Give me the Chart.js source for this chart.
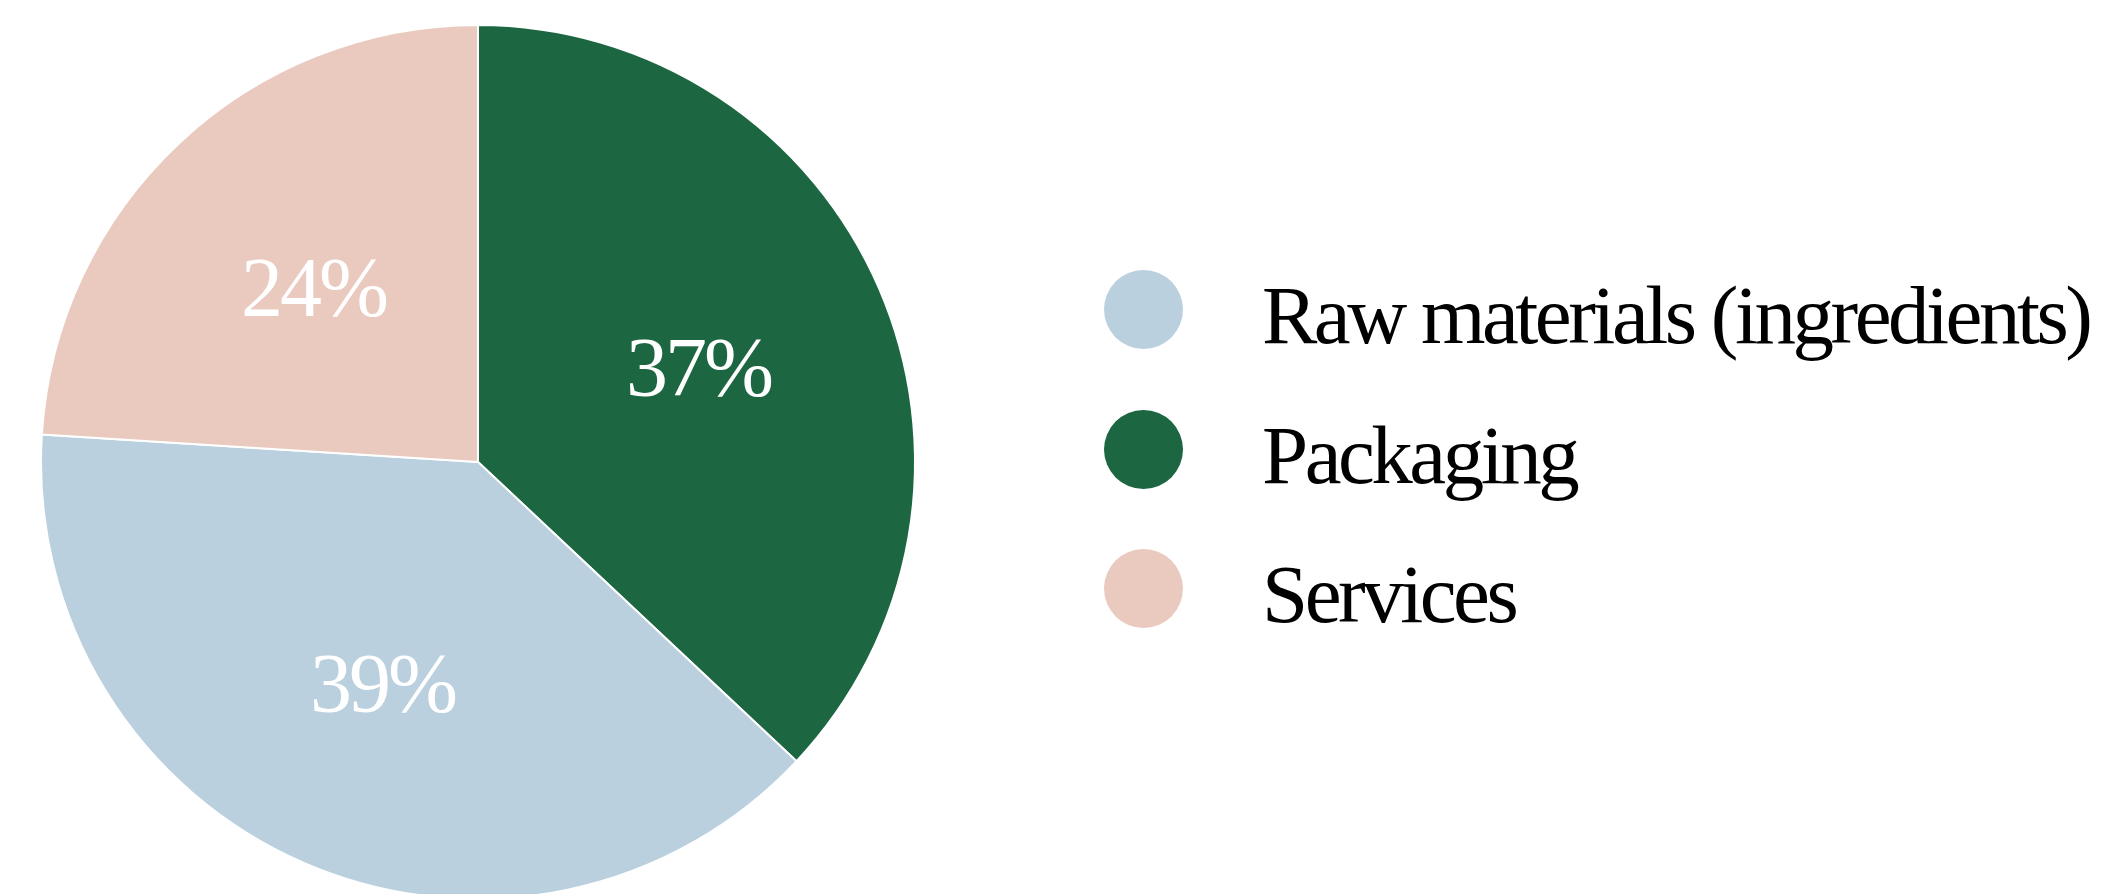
<!DOCTYPE html>
<html>
<head>
<meta charset="utf-8">
<script src="https://cdn.jsdelivr.net/npm/chart.js@4.4.1/dist/chart.umd.min.js"></script>
<style>
  html, body { margin: 0; padding: 0; background: #fff; overflow: hidden; }
  #wrap { position: relative; width: 2101px; height: 894px; }
  #costChart { position: absolute; left: 0; top: 0; }
  .legend-item { position: absolute; left: 1104px; height: 79px; }
  .legend-dot { position: absolute; left: 0; top: 0; width: 79px; height: 79px; border-radius: 50%; }
  .legend-text {
    position: absolute; left: 158px; top: 4px; white-space: nowrap;
    font-family: 'Liberation Serif', 'DejaVu Serif', serif;
    font-size: 83px; line-height: 83px; letter-spacing: -3.5px; color: #000;
  }
</style>
</head>
<body>
<div id="wrap">
  <canvas id="costChart" width="2101" height="894"></canvas>
  <div id="legend"></div>
</div>
<script>
// slices, clockwise from 12 o'clock
const categories = ['Packaging', 'Raw materials (ingredients)', 'Services'];
const shares = [37, 39, 24];
// order of the entries in the legend
const legendOrder = ['Raw materials (ingredients)', 'Packaging', 'Services'];

const sliceColors = ['#1c6641', '#bad0de', '#eacabf'];
const serif = "'Liberation Serif', 'DejaVu Serif', serif";

// white percentage text inside each slice
const sliceLabels = {
  id: 'sliceLabels',
  afterDatasetsDraw(chart) {
    const ctx = chart.ctx;
    const meta = chart.getDatasetMeta(0);
    ctx.save();
    ctx.fillStyle = '#fff';
    ctx.font = '84px ' + serif;
    ctx.letterSpacing = '-3px';
    ctx.textAlign = 'center';
    ctx.textBaseline = 'alphabetic';
    meta.data.forEach((arc, i) => {
      const p = arc.getProps(['x', 'y', 'startAngle', 'endAngle', 'outerRadius'], true);
      const mid = (p.startAngle + p.endAngle) / 2;
      const d = p.outerRadius * 0.55;
      const x = p.x + Math.cos(mid) * d;
      const y = p.y + Math.sin(mid) * d;
      ctx.fillText(shares[i] + '%', x, y + 29);
    });
    ctx.restore();
  }
};

const chart = new Chart(document.getElementById('costChart'), {
  type: 'pie',
  data: {
    labels: categories,
    datasets: [{
      data: shares,
      backgroundColor: sliceColors,
      borderColor: '#ffffff',
      borderWidth: 2,
      radius: 437,
      clip: false
    }]
  },
  options: {
    responsive: false,
    animation: false,
    events: [],
    layout: { padding: { left: 0, right: 1145, top: 30, bottom: 0 } },
    plugins: {
      legend: { display: false },
      tooltip: { enabled: false }
    }
  },
  plugins: [sliceLabels]
});

// html legend built from the chart's own legend items
const legendEl = document.getElementById('legend');
const items = chart.options.plugins.legend.labels.generateLabels(chart)
  .sort((a, b) => legendOrder.indexOf(a.text) - legendOrder.indexOf(b.text));
items.forEach((item, i) => {
  const row = document.createElement('div');
  row.className = 'legend-item';
  row.style.top = (270 + i * 139.5) + 'px';
  const dot = document.createElement('div');
  dot.className = 'legend-dot';
  dot.style.background = item.fillStyle;
  const txt = document.createElement('div');
  txt.className = 'legend-text';
  txt.textContent = item.text;
  row.appendChild(dot);
  row.appendChild(txt);
  legendEl.appendChild(row);
});
</script>
</body>
</html>
